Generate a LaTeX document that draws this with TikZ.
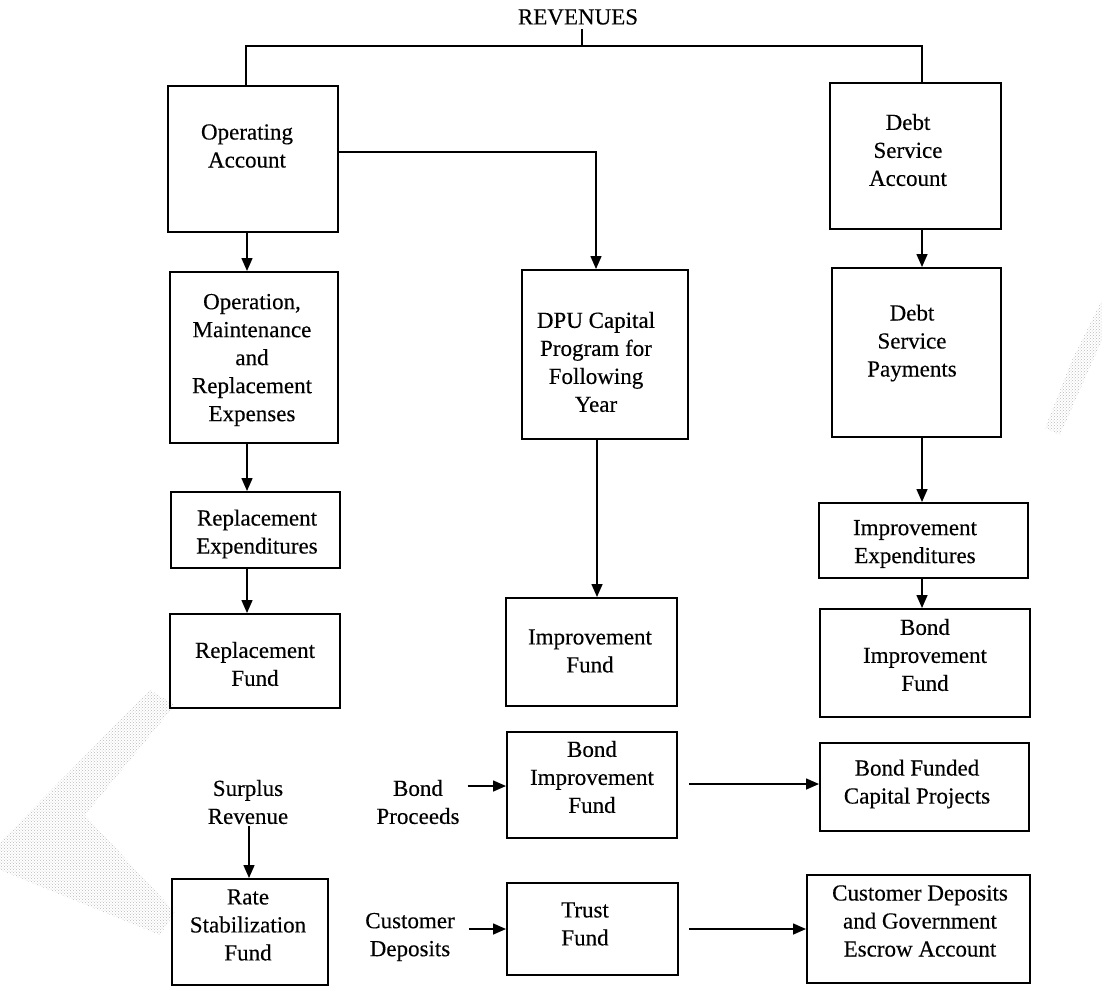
\documentclass[tikz,border=0pt]{standalone}
\usepackage{fontspec}
\setmainfont[FakeBold=0.3]{Liberation Serif}
\usetikzlibrary{arrows.meta,patterns,calc}
\newcommand{\bx}[8]{%
  \pgfmathsetmacro\bw{#4-#2}\pgfmathsetmacro\bh{#5-#3}%
  \node[box, minimum width=\bw pt, minimum height=\bh pt] (#1) at ({(#2+#4)/2},{(#3+#5)/2}) {};
  \node[txt] (#1t) at (#6,#7) {#8};}
\begin{document}
\begin{tikzpicture}[x=1pt,y=-1pt,
  box/.style={draw, line width=2pt, inner sep=0pt, rectangle},
  txt/.style={align=center, inner sep=0pt, font=\fontsize{23}{28}\selectfont},
  conn/.style={line width=1.5pt},
  arr/.style={conn, -{Triangle[length=13pt,width=11pt]}},
  halftone/.style={pattern=crosshatch dots, pattern color=gray!55}]
\useasboundingbox (0,0) rectangle (1102,988);

% scan halftone marks
\fill[halftone] (150,690) -- (175,705) -- (85,815) -- (175,912) -- (160,935) -- (0,870) -- (0,842) -- cycle;
\fill[halftone] (1102,300) -- (1102,340) -- (1060,435) -- (1045,428) -- (1072,360) -- cycle;

% boxes
\bx{opacc}{168}{86}{338}{232}{247}{146}{Operating\\Account}
\bx{dsacc}{830}{83}{1001}{229}{908}{150}{Debt\\Service\\Account}
\bx{omr}{170}{272}{338}{443}{252}{360}{Operation,\\Maintenance\\and\\Replacement\\Expenses}
\bx{dpu}{522}{270}{688}{439}{596}{362}{DPU Capital\\Program for\\Following\\Year}
\bx{dsp}{832}{268}{1001}{437}{912}{343}{Debt\\Service\\Payments}
\bx{repexp}{171}{492}{340}{568}{257}{534}{Replacement\\Expenditures}
\bx{impexp}{819}{503}{1028}{578}{915}{544}{Improvement\\Expenditures}
\bx{repfund}{170}{614}{340}{708}{255}{664}{Replacement\\Fund}
\bx{impfund}{506}{598}{677}{706}{590}{651}{Improvement\\Fund}
\bx{bifr}{820}{609}{1030}{717}{925}{655}{Bond\\Improvement\\Fund}
\bx{bifm}{507}{732}{677}{838}{592}{777}{Bond\\Improvement\\Fund}
\bx{bfcp}{820}{743}{1029}{831}{917}{784}{Bond Funded\\Capital Projects}
\bx{rsf}{172}{879}{328}{985}{248}{925}{Rate\\Stabilization\\Fund}
\bx{trust}{507}{883}{678}{975}{585}{924}{Trust\\Fund}
\bx{cdge}{807}{875}{1030}{983}{920}{921}{Customer Deposits\\and Government\\Escrow Account}

% free texts
\node[txt] (rev) at (578,17) {REVENUES};
\node[txt] (sr) at (248,802) {Surplus\\Revenue};
\node[txt] (bp) at (418,802) {Bond\\Proceeds};
\node[txt] (cd) at (410,937) {Customer\\Deposits};

% helper coordinates
\coordinate (busL) at (246,46);
\coordinate (busR) at (922,46);
\coordinate (stub) at (582,46);
\coordinate (kA) at (596,152);
\coordinate (colL) at (247,0);
\coordinate (colR) at (922,0);
\coordinate (colM) at (597,0);
\coordinate (colS) at (249,0);
\coordinate (yB) at (0,786);
\coordinate (a1) at (689,784);
\coordinate (yC) at (0,929);
\coordinate (a2) at (689,929);

% revenue bus
\draw[conn] (opacc.north -| busL) -- (busL) -- (busR) -- (dsacc.north -| busR);
\draw[conn, shorten <=4pt] (rev.south -| stub) -- (stub);

% connectors
\draw[arr] (opacc.east |- kA) -- (kA) -- (dpu.north -| kA);
\draw[arr] (opacc.south -| colL) -- (omr.north -| colL);
\draw[arr] (omr.south -| colL) -- (repexp.north -| colL);
\draw[arr] (repexp.south -| colL) -- (repfund.north -| colL);
\draw[arr] (dsacc.south -| colR) -- (dsp.north -| colR);
\draw[arr] (dsp.south -| colR) -- (impexp.north -| colR);
\draw[arr] (impexp.south -| colR) -- (bifr.north -| colR);
\draw[arr] (dpu.south -| colM) -- (impfund.north -| colM);
\draw[arr, shorten <=2pt] (sr.south -| colS) -- (rsf.north -| colS);
\draw[arr, shorten <=8pt] (bp.east |- yB) -- (bifm.west |- yB);
\draw[arr] (a1) -- (bfcp.west |- a1);
\draw[arr, shorten <=14pt] (cd.east |- yC) -- (trust.west |- yC);
\draw[arr] (a2) -- (cdge.west |- a2);
\end{tikzpicture}
\end{document}
